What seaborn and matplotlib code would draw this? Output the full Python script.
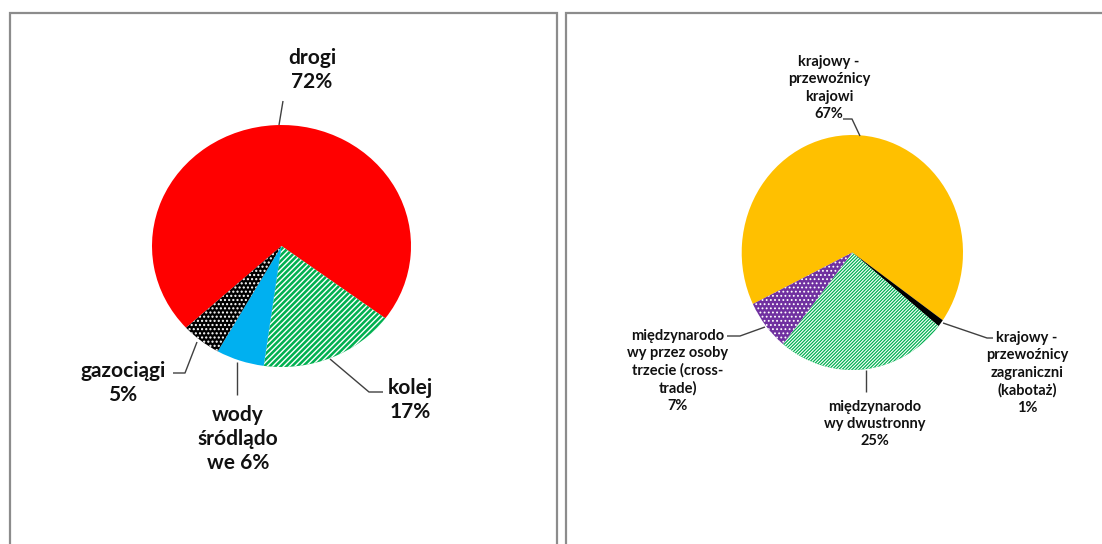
import matplotlib
matplotlib.use("Agg")
import matplotlib.pyplot as plt
import seaborn as sns
from matplotlib.patches import Rectangle

sns.set_theme(style="white")
plt.rcParams['font.family'] = ['Lato', 'DejaVu Sans']

# ---- data ----
left_categories = ["drogi", "kolej", "wody śródlądowe", "gazociągi"]
left_values = [72, 17, 6, 5]
left_labels = ["drogi\n72%", "kolej\n17%", "wody\nśródlądo\nwe 6%", "gazociągi\n5%"]

right_categories = ["krajowy - przewoźnicy krajowi",
                    "krajowy - przewoźnicy zagraniczni (kabotaż)",
                    "międzynarodowy dwustronny",
                    "międzynarodowy przez osoby trzecie (cross-trade)"]
right_values = [67, 1, 25, 7]
right_labels = ["krajowy -\nprzewoźnicy\nkrajowi\n67%",
                "krajowy -\nprzewoźnicy\nzagraniczni\n(kabotaż)\n1%",
                "międzynarodo\nwy dwustronny\n25%",
                "międzynarodo\nwy przez osoby\ntrzecie (cross-\ntrade)\n7%"]

# ---- styles ----
left_colors = ["#FF0000", "#00B050", "#00B0F0", "#000000"]
left_hatches = [None, "//////", None, "...."]
right_colors = ["#FFC000", "#000000", "#00B050", "#7030A0"]
right_hatches = [None, None, "//////////", "...."]

W, H = 1102, 544
fig = plt.figure(figsize=(W / 100, H / 100), dpi=100)
fig.patch.set_facecolor("white")

def px_axes(x0, y0, x1, y1):
    return fig.add_axes([x0 / W, 1 - y1 / H, (x1 - x0) / W, (y1 - y0) / H])

# panel borders
for (x0, x1) in [(10, 557), (566, 1110)]:
    fig.add_artist(Rectangle((x0 / W, -0.1), (x1 - x0) / W, 1.1 - 13 / H,
                             transform=fig.transFigure, fill=False,
                             edgecolor="#8C8C8C", linewidth=1.6))

def draw_pie(ax, values, colors, hatches, start, hatch_lw):
    plt.rcParams['hatch.linewidth'] = hatch_lw
    wedges, _ = ax.pie(values, colors=colors, startangle=start, counterclock=False,
                       radius=1.0, wedgeprops=dict(linewidth=0))
    for w, h in zip(wedges, hatches):
        if h:
            w.set_edgecolor("white")
            w.set_hatch(h)
            w.set_linewidth(0)
    ax.set_aspect("auto")
    ax.set_xlim(-1, 1)
    ax.set_ylim(-1, 1)
    ax.axis("off")

axL = px_axes(152, 125, 411, 367)
draw_pie(axL, left_values, left_colors, left_hatches, -137.5, 1.0)
axR = px_axes(741.7, 135, 963, 370)
draw_pie(axR, right_values, right_colors, right_hatches, -154, 0.8)

# overlay for labels and leader lines
ov = fig.add_axes([0, 0, 1, 1])
ov.set_xlim(0, W)
ov.set_ylim(H, 0)
ov.axis("off")
ov.patch.set_alpha(0)

left_label_pos = [(312, 70), (410, 400), (238, 439), (123, 383)]
for s, (x, y) in zip(left_labels, left_label_pos):
    ov.text(x, y, s, ha="center", va="center", fontsize=15, fontweight="bold",
            linespacing=1.25, color="#111111")

right_label_pos = [(829, 88), (1027, 373), (875, 424), (678, 371)]
for s, (x, y) in zip(right_labels, right_label_pos):
    ov.text(x, y, s, ha="center", va="center", fontsize=10.5, fontweight="bold",
            linespacing=1.3, color="#111111")

lc = "#404040"
leaders = [
    ([283, 279], [101, 125]),
    ([173, 185, 197], [373, 373, 342]),
    ([237, 237], [362, 395]),
    ([330, 369, 383], [359, 392, 392]),
    ([843, 852, 860], [119, 119, 136]),
    ([727, 740, 765], [336, 336, 327]),
    ([943, 987, 993], [323, 338, 338]),
    ([866, 866], [370, 392]),
]
for xs, ys in leaders:
    ov.plot(xs, ys, color=lc, linewidth=1.0, solid_capstyle="butt")

fig.savefig("out.png", dpi=100, facecolor="white")
